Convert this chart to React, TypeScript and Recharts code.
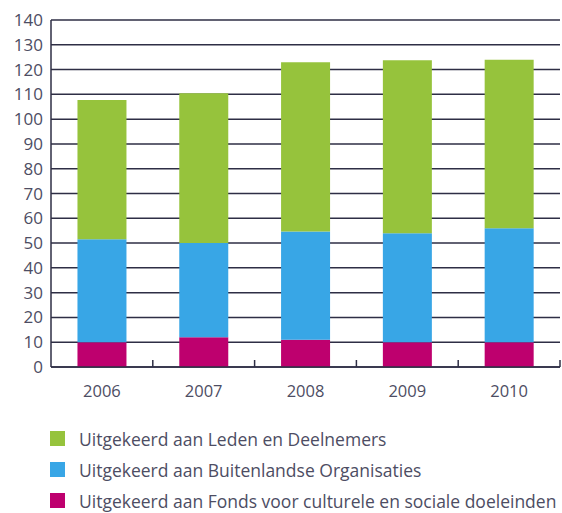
import { BarChart, Bar, XAxis, YAxis, CartesianGrid } from 'recharts'

const years = ['2006', '2007', '2008', '2009', '2010']
const fonds = [10, 12, 11, 10, 10]
const buitenland = [41.5, 38, 43.7, 44, 46]
const leden = [56.2, 60.4, 68.3, 69.8, 68]
const yTicks = [0, 10, 20, 30, 40, 50, 60, 70, 80, 90, 100, 110, 120, 130, 140]

const series = [
  { key: 'leden', label: 'Uitgekeerd aan Leden en Deelnemers', color: '#96c33c' },
  { key: 'buitenland', label: 'Uitgekeerd aan Buitenlandse Organisaties', color: '#38a6e6' },
  { key: 'fonds', label: 'Uitgekeerd aan Fonds voor culturele en sociale doeleinden', color: '#be006e' },
]

const data = years.map((year, i) => ({
  year,
  fonds: fonds[i],
  buitenland: buitenland[i],
  leden: leden[i],
}))

const FONT = '"Open Sans", sans-serif'
const TEXT = '#4d4d63'
const LINE = '#2e2e45'

const YearTick = ({ x, y, payload }: any) => {
  const half = payload?.offset ?? 51
  return (
    <g>
      <text x={x} y={y + 30} textAnchor="middle" fill={TEXT} fontSize={16.5} fontFamily={FONT}>
        {payload.value}
      </text>
      <line x1={x + half} x2={x + half} y1={y} y2={y - 7} stroke={LINE} strokeWidth={1.5} />
    </g>
  )
}

export default function App() {
  return (
    <div style={{ position: 'absolute', left: 0, top: 0, width: 562, height: 513, background: '#fff', overflow: 'hidden' }}>
      <BarChart
        width={562}
        height={410}
        data={data}
        margin={{ top: 20, right: 2, left: 0, bottom: 0 }}
        barCategoryGap="26%"
      >
        <CartesianGrid horizontal vertical={false} stroke={LINE} strokeWidth={1.5} strokeOpacity={1} />
        <XAxis
          dataKey="year"
          tickLine={false}
          tickSize={0}
          tickMargin={0}
          height={43}
          axisLine={{ stroke: LINE, strokeWidth: 1.5 }}
          tick={<YearTick />}
        />
        <YAxis
          domain={[0, 140]}
          ticks={yTicks}
          width={51}
          tickLine={false}
          tickSize={0}
          tickMargin={8}
          axisLine={{ stroke: LINE, strokeWidth: 1.5 }}
          tick={{ fill: TEXT, fontSize: 17, fontFamily: FONT }}
          interval={0}
        />
        <Bar dataKey="fonds" stackId="a" fill="#be006e" isAnimationActive={false} />
        <Bar dataKey="buitenland" stackId="a" fill="#38a6e6" isAnimationActive={false} />
        <Bar dataKey="leden" stackId="a" fill="#96c33c" isAnimationActive={false} />
      </BarChart>
      <div style={{ position: 'absolute', left: 50, top: 423, fontFamily: FONT }}>
        {series.map((s) => (
          <div key={s.key} style={{ display: 'flex', alignItems: 'center', height: 31 }}>
            <span style={{ width: 15, height: 15, background: s.color, display: 'inline-block', flexShrink: 0 }} />
            <span style={{ marginLeft: 14, fontSize: 17.5, lineHeight: '20px', color: TEXT, whiteSpace: 'nowrap' }}>{s.label}</span>
          </div>
        ))}
      </div>
    </div>
  )
}
